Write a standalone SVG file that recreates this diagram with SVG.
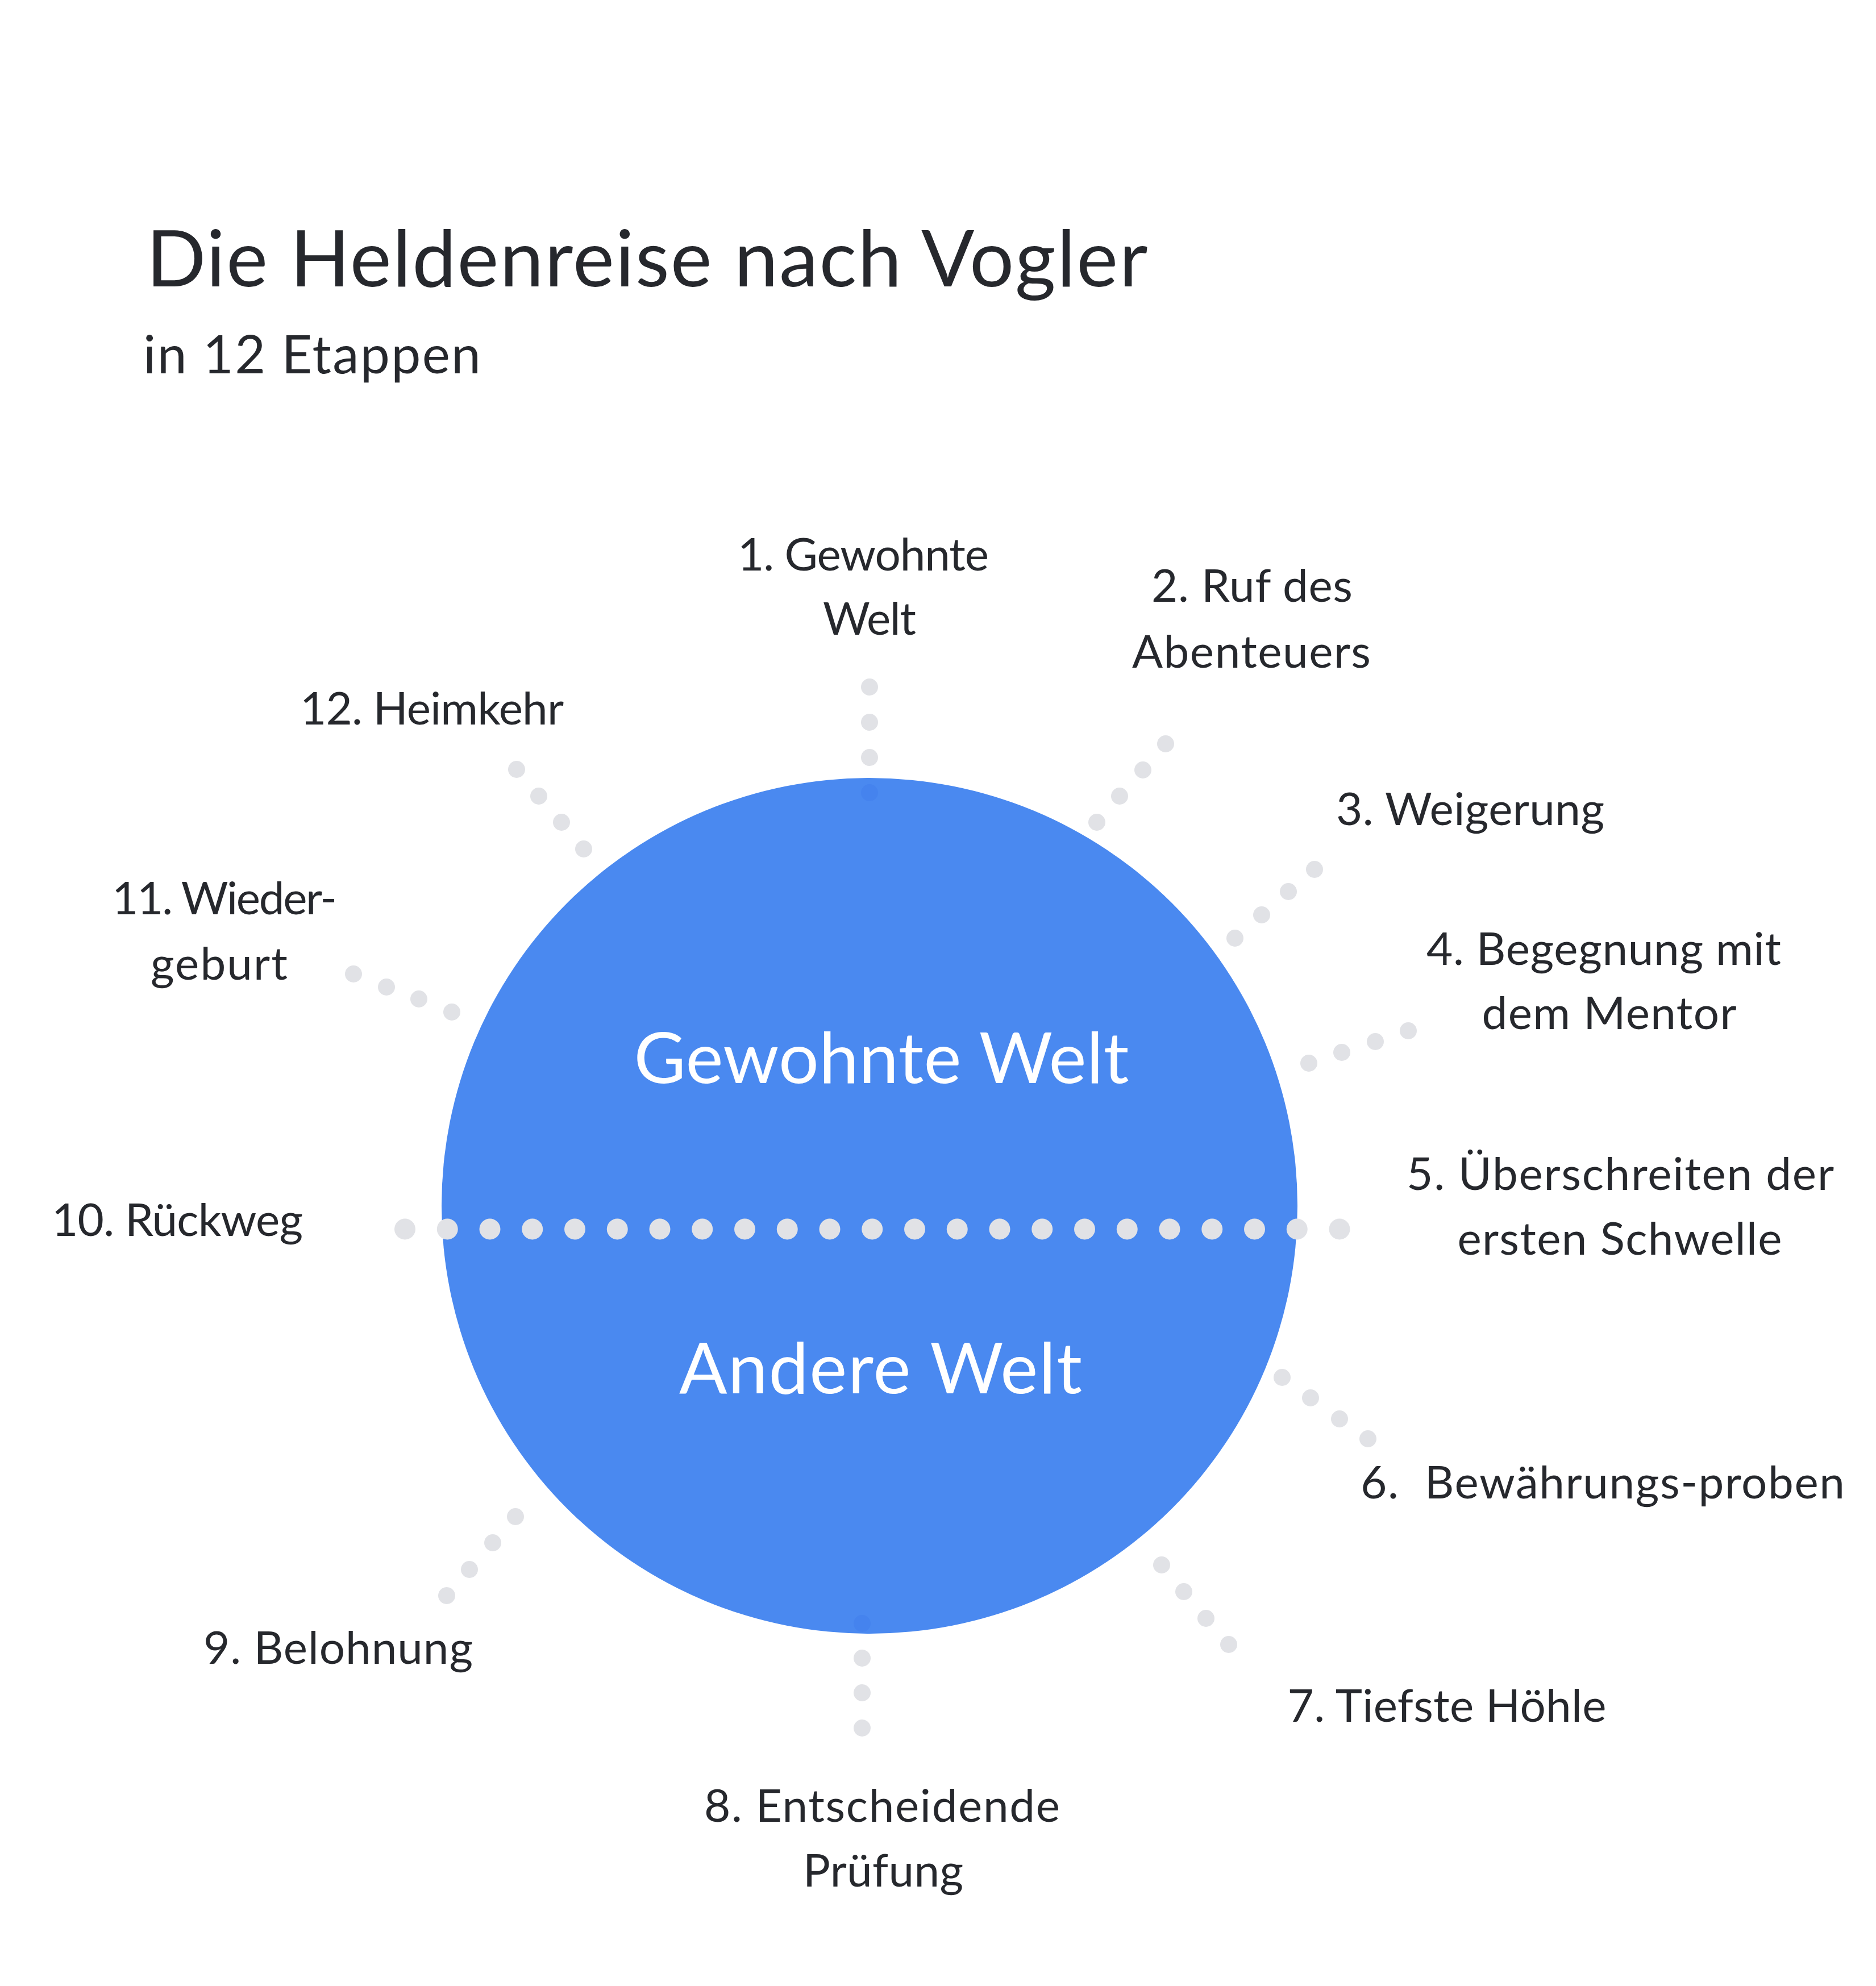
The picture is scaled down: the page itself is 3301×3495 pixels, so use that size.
<svg xmlns="http://www.w3.org/2000/svg" width="3301" height="3495" viewBox="0 0 3301 3495">
<style>
text { font-family: "Lato", "Liberation Sans", sans-serif; font-weight: 400; text-anchor: middle; }
.lbl { font-size: 80px; fill: #26282D; }
.ttl { font-size: 138px; fill: #26282D; }
.sub { font-size: 93px; fill: #26282D; }
.in { font-size: 125px; fill: #FFFFFF; }
.dot { fill: #E1E2E6; }
.hdot { fill: #E1E2E6; }
.under { fill: #4583EE; }
</style>
<rect x="0" y="0" width="3301" height="3495" fill="#FFFFFF"/>

<g id="title">
  <text class="ttl" x="1138.5" y="504" textLength="1762">Die Heldenreise nach Vogler</text>
</g>
<g id="subtitle">
  <text class="sub" x="549" y="657" textLength="594">in 12 Etappen</text>
</g>

<g id="world-circle">
  <circle cx="1530" cy="2122" r="753" fill="#4A89F0"/>
  <text class="in" x="1551" y="1906" textLength="871">Gewohnte Welt</text>
  <text class="in" x="1549.5" y="2452" textLength="709">Andere Welt</text>
</g>

<g id="connectors">
  <g id="threshold-line">
    <circle class="hdot" cx="712.5" cy="2163" r="18.5"/>
    <circle class="hdot" cx="787.25" cy="2163" r="18.5"/>
    <circle class="hdot" cx="862" cy="2163" r="18.5"/>
    <circle class="hdot" cx="936.75" cy="2163" r="18.5"/>
    <circle class="hdot" cx="1011.5" cy="2163" r="18.5"/>
    <circle class="hdot" cx="1086.25" cy="2163" r="18.5"/>
    <circle class="hdot" cx="1161" cy="2163" r="18.5"/>
    <circle class="hdot" cx="1235.75" cy="2163" r="18.5"/>
    <circle class="hdot" cx="1310.5" cy="2163" r="18.5"/>
    <circle class="hdot" cx="1385.25" cy="2163" r="18.5"/>
    <circle class="hdot" cx="1460" cy="2163" r="18.5"/>
    <circle class="hdot" cx="1534.75" cy="2163" r="18.5"/>
    <circle class="hdot" cx="1609.5" cy="2163" r="18.5"/>
    <circle class="hdot" cx="1684.25" cy="2163" r="18.5"/>
    <circle class="hdot" cx="1759" cy="2163" r="18.5"/>
    <circle class="hdot" cx="1833.75" cy="2163" r="18.5"/>
    <circle class="hdot" cx="1908.5" cy="2163" r="18.5"/>
    <circle class="hdot" cx="1983.25" cy="2163" r="18.5"/>
    <circle class="hdot" cx="2058" cy="2163" r="18.5"/>
    <circle class="hdot" cx="2132.75" cy="2163" r="18.5"/>
    <circle class="hdot" cx="2207.5" cy="2163" r="18.5"/>
    <circle class="hdot" cx="2282.25" cy="2163" r="18.5"/>
    <circle class="hdot" cx="2357" cy="2163" r="18.5"/>
  </g>
  <g id="c1">
    <circle class="dot" cx="1530" cy="1209" r="15"/>
    <circle class="dot" cx="1530" cy="1271" r="15"/>
    <circle class="dot" cx="1530" cy="1333" r="15"/>
    <circle class="under" cx="1530" cy="1395" r="15"/>
  </g>
  <g id="c2">
    <circle class="dot" cx="2051" cy="1309" r="15"/>
    <circle class="dot" cx="2011" cy="1355" r="15"/>
    <circle class="dot" cx="1970" cy="1401" r="15"/>
    <circle class="dot" cx="1930" cy="1447" r="15"/>
  </g>
  <g id="c3">
    <circle class="dot" cx="2313" cy="1530" r="15"/>
    <circle class="dot" cx="2267" cy="1569" r="15"/>
    <circle class="dot" cx="2220" cy="1610" r="15"/>
    <circle class="dot" cx="2173" cy="1651" r="15"/>
  </g>
  <g id="c4">
    <circle class="dot" cx="2478" cy="1814" r="15"/>
    <circle class="dot" cx="2420" cy="1833" r="15"/>
    <circle class="dot" cx="2361" cy="1852" r="15"/>
    <circle class="dot" cx="2303" cy="1871" r="15"/>
  </g>
  <g id="c6">
    <circle class="dot" cx="2256" cy="2424" r="15"/>
    <circle class="dot" cx="2306" cy="2460" r="15"/>
    <circle class="dot" cx="2357" cy="2497" r="15"/>
    <circle class="dot" cx="2407" cy="2532" r="15"/>
  </g>
  <g id="c7">
    <circle class="dot" cx="2044" cy="2754" r="15"/>
    <circle class="dot" cx="2083" cy="2801" r="15"/>
    <circle class="dot" cx="2122" cy="2848" r="15"/>
    <circle class="dot" cx="2162" cy="2894" r="15"/>
  </g>
  <g id="c8">
    <circle class="under" cx="1517" cy="2857" r="15"/>
    <circle class="dot" cx="1517" cy="2918" r="15"/>
    <circle class="dot" cx="1517" cy="2979" r="15"/>
    <circle class="dot" cx="1517" cy="3041" r="15"/>
  </g>
  <g id="c9">
    <circle class="dot" cx="907" cy="2669" r="15"/>
    <circle class="dot" cx="867" cy="2715" r="15"/>
    <circle class="dot" cx="826" cy="2762" r="15"/>
    <circle class="dot" cx="786" cy="2808" r="15"/>
  </g>
  <g id="c11">
    <circle class="dot" cx="622" cy="1714" r="15"/>
    <circle class="dot" cx="680" cy="1737" r="15"/>
    <circle class="dot" cx="737" cy="1758" r="15"/>
    <circle class="dot" cx="795" cy="1781" r="15"/>
  </g>
  <g id="c12">
    <circle class="dot" cx="909" cy="1354" r="15"/>
    <circle class="dot" cx="948" cy="1401" r="15"/>
    <circle class="dot" cx="988" cy="1447" r="15"/>
    <circle class="dot" cx="1027" cy="1494" r="15"/>
  </g>
</g>

<g id="stage1">
  <text class="lbl" x="1519" y="1004" textLength="442">1. Gewohnte</text>
  <text class="lbl" x="1530" y="1117" textLength="164">Welt</text>
</g>
<g id="stage2">
  <text class="lbl" x="2203" y="1059" textLength="354">2. Ruf des</text>
  <text class="lbl" x="2202" y="1175" textLength="420">Abenteuers</text>
</g>
<g id="stage3">
  <text class="lbl" x="2587" y="1452" textLength="472">3. Weigerung</text>
</g>
<g id="stage4">
  <text class="lbl" x="2822" y="1698" textLength="624">4. Begegnung mit</text>
  <text class="lbl" x="2831.5" y="1811" textLength="448">dem Mentor</text>
</g>
<g id="stage5">
  <text class="lbl" x="2851" y="2094" textLength="752">5. Überschreiten der</text>
  <text class="lbl" x="2850" y="2208" textLength="571">ersten Schwelle</text>
</g>
<g id="stage6">
  <text class="lbl" x="2820" y="2637" textLength="852" style="white-space:pre">6.  Bewährungs-proben</text>
</g>
<g id="stage7">
  <text class="lbl" x="2546" y="3030" textLength="561">7. Tiefste Höhle</text>
</g>
<g id="stage8">
  <text class="lbl" x="1552" y="3206" textLength="626">8. Entscheidende</text>
  <text class="lbl" x="1554" y="3320" textLength="282">Prüfung</text>
</g>
<g id="stage9">
  <text class="lbl" x="595" y="2928" textLength="474">9. Belohnung</text>
</g>
<g id="stage10">
  <text class="lbl" x="312" y="2175" textLength="442">10. Rückweg</text>
</g>
<g id="stage11">
  <text class="lbl" x="395" y="1609" textLength="396">11. Wieder-</text>
  <text class="lbl" x="385.5" y="1724" textLength="241">geburt</text>
</g>
<g id="stage12">
  <text class="lbl" x="760" y="1275" textLength="464">12. Heimkehr</text>
</g>
</svg>
